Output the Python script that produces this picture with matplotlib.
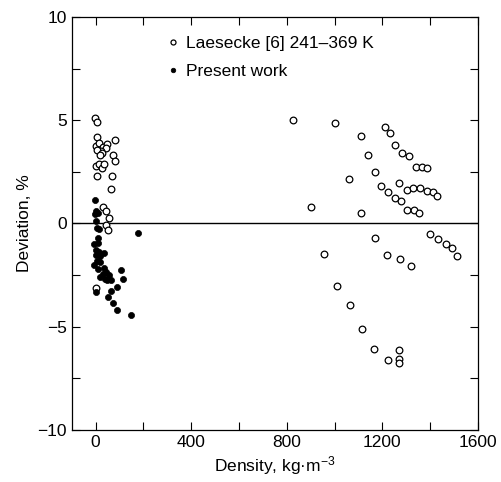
import matplotlib
matplotlib.use("Agg")
import matplotlib.pyplot as plt
from matplotlib.ticker import MultipleLocator

plt.rcParams['font.family'] = ['Liberation Sans', 'DejaVu Sans']
plt.rcParams['mathtext.fontset'] = 'custom'
plt.rcParams['mathtext.rm'] = 'Liberation Sans'
plt.rcParams['mathtext.it'] = 'Liberation Sans:italic'

# Laesecke [6] 241-369 K (open circles)
laes_x = [-3, 4, 7, 81, 0, 14, 32, 49, 42, 21, 7, 28, 18, 72, 79, 0, 14, 28, 35,
          4, 70, 63, 29, 42, 57, 43, 51, 0,
          827, 901, 956, 1001, 1010, 1060, 1065, 1109, 1112, 1115, 1140, 1168, 1168,
          1165, 1195, 1210, 1231, 1224, 1220, 1223, 1255, 1254, 1271, 1278, 1273,
          1284, 1303, 1304, 1313, 1321, 1330, 1331, 1341, 1355, 1359, 1365, 1387,
          1386, 1410, 1428, 1399, 1435, 1465, 1493, 1514, 1269, 1269, 1269]
laes_y = [5.12, 4.93, 4.2, 4.06, 3.77, 3.88, 3.72, 3.83, 3.64, 3.51, 3.56, 3.4, 3.32,
          3.32, 3.03, 2.78, 2.87, 2.67, 2.87,
          2.3, 2.3, 1.67, 0.81, 0.6, 0.25, -0.1, -0.31, -3.12,
          5.0, 0.78, -1.49, 4.85, -3.03, 2.17, -3.95, 4.24, 0.49, -5.1, 3.32, 2.51, -0.70,
          -6.1, 1.83, 4.67, 4.37, 1.51, -1.53, -6.6, 3.82, 1.23, 1.98, 1.09, -1.73,
          3.40, 1.62, 0.64, 3.25, -2.07, 1.72, 0.67, 2.75, 0.51, 1.72, 2.75, 2.67,
          1.57, 1.51, 1.32, -0.49, -0.77, -1.01, -1.19, -1.57, -6.13, -6.56, -6.76]

# Present work (filled circles)
pres_x = [-3, 2, -3, 8, 0, 4, 14, 10, 10, -5, 3, 13, 20, 35, 0, 20, 5, 20, -5,
          10, 35, 42, 56, 30, 20, 37, 49, 63, 104, 114, 178, 88, 63, 51, 3, 72, 88, 149]
pres_y = [1.15, 0.6, 0.45, 0.5, 0.1, -0.2, -0.25, -0.7, -0.95, -1.0, -1.3, -1.4, -1.5,
          -1.45, -1.55, -1.6, -1.8, -1.85, -2.0,
          -2.2, -2.15, -2.35, -2.5, -2.45, -2.6, -2.7, -2.75, -2.75, -2.25, -2.7, -0.48,
          -3.1, -3.25, -3.55, -3.3, -3.83, -4.19, -4.43]

xticks = [0, 400, 800, 1200, 1600]
yticks = [-10, -5, 0, 5, 10]

fig = plt.figure(figsize=(5.02, 4.82), dpi=100)
ax = fig.add_axes([0.143, 0.108, 0.809, 0.857])

ax.axhline(0, color='black', lw=1.0, zorder=1)
ax.plot(laes_x, laes_y, linestyle='none', marker='o', markersize=4.8,
        markerfacecolor='white', markeredgecolor='black', markeredgewidth=0.9,
        label='Laesecke [6] 241\u2013369 K', zorder=3)
ax.plot(pres_x, pres_y, linestyle='none', marker='o', markersize=4.4,
        markerfacecolor='black', markeredgecolor='black', markeredgewidth=0.5,
        label='Present work', zorder=4)

ax.set_xlim(-100, 1600)
ax.set_ylim(-10, 10)
ax.set_xticks(xticks)
ax.set_yticks(yticks)
ax.xaxis.set_minor_locator(MultipleLocator(200))
ax.yaxis.set_minor_locator(MultipleLocator(2.5))
ax.tick_params(which='both', direction='in', top=True, right=True,
               labelsize=12.5, width=0.8)
ax.tick_params(which='major', length=6)
ax.tick_params(which='minor', length=6)
for s in ax.spines.values():
    s.set_linewidth(0.9)

ax.set_xlabel('Density, kg\u00b7m$^{-3}$', fontsize=12.5, labelpad=3)
ax.set_ylabel('Deviation, %', fontsize=12.5, labelpad=4)

leg = ax.legend(loc='upper left', bbox_to_anchor=(0.215, 0.97), frameon=False,
                fontsize=12.5, handletextpad=0.35, handlelength=0.8,
                borderaxespad=0.0, labelspacing=0.7, markerscale=0.75)

fig.savefig('out.png', dpi=100)
